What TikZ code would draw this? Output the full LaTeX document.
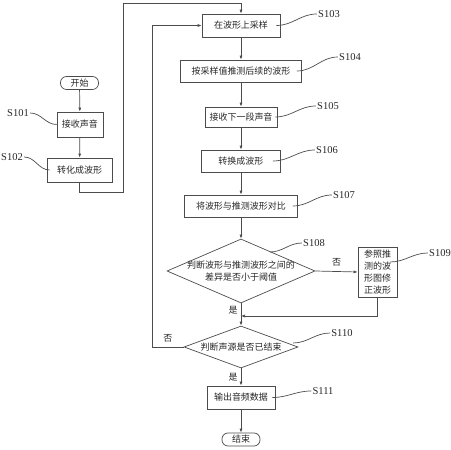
\documentclass[tikz,border=0pt]{standalone}
\usepackage{fontspec}
\setmainfont{Liberation Serif}
\newfontfamily\cjk{Noto Sans CJK SC}
\usetikzlibrary{arrows.meta,shapes.geometric}
\begin{document}
\begin{tikzpicture}[x=1pt,y=1pt,line width=0.7pt,
    box/.style={draw=black!70,rectangle,minimum height=22pt,inner sep=0pt,text=black!85,font=\cjk\fontsize{9}{12}\selectfont},
    term/.style={box,rounded corners=6pt,minimum width=38pt,minimum height=13pt},
    dia/.style={draw=black!70,diamond,inner sep=0pt},
    txt/.style={text=black!85,inner sep=0pt,font=\cjk\fontsize{9}{12}\selectfont},
    tag/.style={text=black!85,inner sep=1pt,font=\fontsize{10.5}{12}\selectfont},
    flow/.style={draw=black!70,-{Latex[length=4pt,width=3pt]}}]
  \useasboundingbox (0,0) rectangle (451,450);
  \node[term] (start) at (79.5,367) {开始};
  \node[box,minimum width=46pt,minimum height=25pt] (s101) at (80,325.5) {接收声音};
  \node[box,minimum width=65pt,minimum height=24pt] (s102) at (79.5,280) {转化成波形};
  \node[box,minimum width=78pt,minimum height=23pt] (s103) at (241,424.5) {在波形上采样};
  \node[box,minimum width=121pt] (s104) at (241,379) {按采样值推测后续的波形};
  \node[box,minimum width=72pt,minimum height=20pt] (s105) at (241,333) {接收下一段声音};
  \node[box,minimum width=79pt] (s106) at (241,289) {转换成波形};
  \node[box,minimum width=113pt] (s107) at (241,244) {将波形与推测波形对比};
  \node[dia,minimum width=148pt,minimum height=64pt] (s108) at (241,179) {};
  \node[txt,align=center] (t108) at (s108) {判断波形与推测波形之间的\\差异是否小于阈值};
  \node[box,minimum width=39pt,minimum height=50pt,align=center] (s109) at (377.5,178) {参照推\\测的波\\形图修\\正波形};
  \node[dia,minimum width=114pt,minimum height=42pt] (s110) at (241,103) {};
  \node[txt] (t110) at (s110) {判断声源是否已结束};
  \node[box,minimum width=68pt,minimum height=23pt] (s111) at (241,52.5) {输出音频数据};
  \node[term] (end) at (241,10.5) {结束};

  \node[tag] (l101) at (18,337) {S101};
  \node[tag] (l102) at (12,293) {S102};
  \node[tag] (l103) at (329,436) {S103};
  \node[tag] (l104) at (350,393) {S104};
  \node[tag] (l105) at (328,344) {S105};
  \node[tag] (l106) at (327,300) {S106};
  \node[tag] (l107) at (344,255) {S107};
  \node[tag] (l108) at (314,207) {S108};
  \node[tag] (l109) at (440,197) {S109};
  \node[tag] (l110) at (342,117) {S110};
  \node[tag] (l111) at (323,59) {S111};

  \coordinate (c1) at (123,258);
  \coordinate (c2) at (123,447);
  \coordinate (c3) at (241,134);
  \coordinate (c4) at (152,103);

  \begin{scope}[flow]
    \draw (start) to (s101);
    \draw (s101) to (s102);
    \draw (s102.south) |- (c1) -- (c2) -| (s103.north);
    \draw (s103) to (s104);
    \draw (s104) to (s105);
    \draw (s105) to (s106);
    \draw (s106) to (s107);
    \draw (s107) to (s108.north);
    \draw (s108.east) to node[txt,midway,above=5pt] {否} (s109.west);
    \draw (s108.south) to node[txt,pos=0.3,left=3pt] {是} (s110.north);
    \draw (s109.south) |- (c3);
    \draw (s110.west) -- node[txt,pos=0.5,above=4pt] {否} (c4) |- (s103.west);
    \draw (s110.south) to node[txt,midway,left=3pt] {是} (s111.north);
    \draw (s111) to (end);
  \end{scope}

  \begin{scope}[-,draw=black!70]
    \draw (l101.east) to[out=0,in=180] (s101.west);
    \draw (l102.east) to[out=0,in=180] ([xshift=3pt]s102.west);
    \draw ([xshift=-4pt]s103.east) to[out=0,in=180] (l103.west);
    \draw ([xshift=-5pt]s104.east) to[out=0,in=180] (l104.west);
    \draw ([xshift=-2pt]s105.east) to[out=0,in=180] (l105.west);
    \draw ([xshift=-8pt]s106.east) to[out=0,in=180] (l106.west);
    \draw ([xshift=-5pt]s107.east) to[out=0,in=180] (l107.west);
    \draw ([shift={(29,19)}]s108.center) to[out=0,in=180] (l108.west);
    \draw ([shift={(12.5,10)}]s109.center) to[out=0,in=180] (l109.west);
    \draw ([shift={(52,4)}]s110.center) to[out=0,in=180] (l110.west);
    \draw ([xshift=-3pt]s111.east) to[out=0,in=180] (l111.west);
  \end{scope}
\end{tikzpicture}
\end{document}
